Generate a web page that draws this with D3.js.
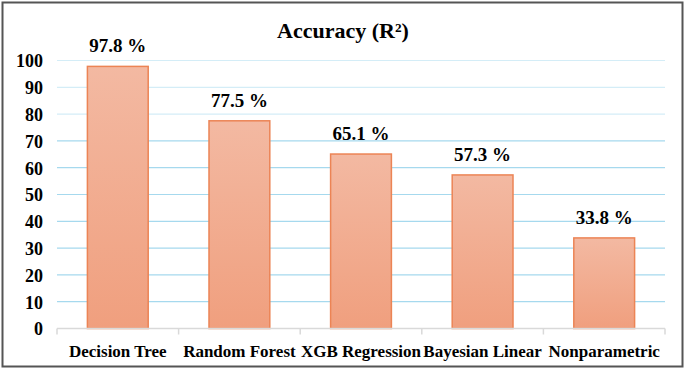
<!DOCTYPE html>
<html>
<head>
<meta charset="utf-8">
<script src="https://cdn.jsdelivr.net/npm/d3@7"></script>
<style>
  body { margin: 0; background: #fff; }
  svg text { font-family: 'Liberation Serif', 'Times New Roman', serif; font-weight: bold; fill: #000; }
</style>
</head>
<body>
<script>
const models = ["Decision Tree", "Random Forest", "XGB Regression", "Bayesian Linear", "Nonparametric"];
const accuracy = [97.8, 77.5, 65.1, 57.3, 33.8];
const yTicks = [0, 10, 20, 30, 40, 50, 60, 70, 80, 90, 100];

const data = models.map((m, i) => ({ name: m, value: accuracy[i] }));

const width = 685, height = 369;
const margin = { left: 57, right: 20, top: 60.5, bottom: 40.5 };
const innerWidth = width - margin.left - margin.right;
const innerHeight = height - margin.top - margin.bottom;
const serif = "'Liberation Serif', 'Times New Roman', serif";

const svg = d3.select("body").append("svg")
  .attr("width", width)
  .attr("height", height);

// outer frame
svg.append("rect")
  .attr("x", 2.5).attr("y", 2.5)
  .attr("width", width - 5).attr("height", height - 5)
  .attr("fill", "none")
  .attr("stroke", "#555")
  .attr("stroke-width", 2);

const defs = svg.append("defs");
const grad = defs.append("linearGradient")
  .attr("id", "barGrad")
  .attr("x1", 0).attr("y1", 0).attr("x2", 0).attr("y2", 1);
grad.append("stop").attr("offset", "0%").attr("stop-color", "#f3b9a2");
grad.append("stop").attr("offset", "100%").attr("stop-color", "#f09f7e");

const g = svg.append("g")
  .attr("transform", `translate(${margin.left},${margin.top})`);

const x = d3.scaleBand()
  .domain(models)
  .range([0, innerWidth])
  .paddingInner(0.5)
  .paddingOuter(0.25);

const y = d3.scaleLinear()
  .domain([0, 100])
  .range([innerHeight, 0]);

// gridlines
g.append("g")
  .selectAll("line")
  .data(yTicks.filter(d => d > 0))
  .join("line")
    .attr("x1", 0).attr("x2", innerWidth)
    .attr("y1", d => y(d)).attr("y2", d => y(d))
    .attr("stroke", d => d >= 80 ? "#d4edf7" : "#a6d9ee")
    .attr("stroke-width", 1.2);

// y axis labels
const yAxis = d3.axisLeft(y).tickValues(yTicks).tickSize(0).tickPadding(14);
g.append("g")
  .call(yAxis)
  .attr("font-family", serif)
  .call(s => s.select(".domain").remove())
  .selectAll("text")
    .style("font-family", serif)
    .style("font-size", "18px")
    .attr("dy", "0.35em");

// bars
g.append("g")
  .selectAll("rect")
  .data(data)
  .join("rect")
    .attr("x", d => x(d.name))
    .attr("y", d => y(d.value))
    .attr("width", x.bandwidth())
    .attr("height", d => innerHeight - y(d.value))
    .attr("fill", "url(#barGrad)")
    .attr("stroke", "#ec8455")
    .attr("stroke-width", 1.5);

// value labels
g.append("g")
  .selectAll("text")
  .data(data)
  .join("text")
    .attr("x", d => x(d.name) + x.bandwidth() / 2)
    .attr("y", d => y(d.value) - 14)
    .attr("text-anchor", "middle")
    .style("font-family", serif)
    .style("font-size", "19px")
    .text(d => d.value.toFixed(1) + " %");

// x axis: ticks at band boundaries
const xAxisG = g.append("g")
  .attr("transform", `translate(0,${innerHeight})`);
xAxisG.append("line")
  .attr("x1", 0).attr("x2", innerWidth)
  .attr("stroke", "#d9d9d9").attr("stroke-width", 1.5);
const bounds = models.map((m, i) => x.step() * i).concat([innerWidth]);
xAxisG.selectAll(".tick-mark")
  .data(bounds)
  .join("line")
    .attr("class", "tick-mark")
    .attr("x1", d => d).attr("x2", d => d)
    .attr("y1", 0).attr("y2", 6)
    .attr("stroke", "#d9d9d9").attr("stroke-width", 1.5);
xAxisG.selectAll(".xlabel")
  .data(models)
  .join("text")
    .attr("class", "xlabel")
    .attr("x", d => x(d) + x.bandwidth() / 2)
    .attr("y", 28)
    .attr("text-anchor", "middle")
    .style("font-family", serif)
    .style("font-size", "17px")
    .text(d => d);

// title
svg.append("text")
  .attr("x", 343)
  .attr("y", 38)
  .attr("text-anchor", "middle")
  .style("font-family", serif)
  .style("font-size", "22px")
  .text("Accuracy (R²)");
</script>
</body>
</html>
